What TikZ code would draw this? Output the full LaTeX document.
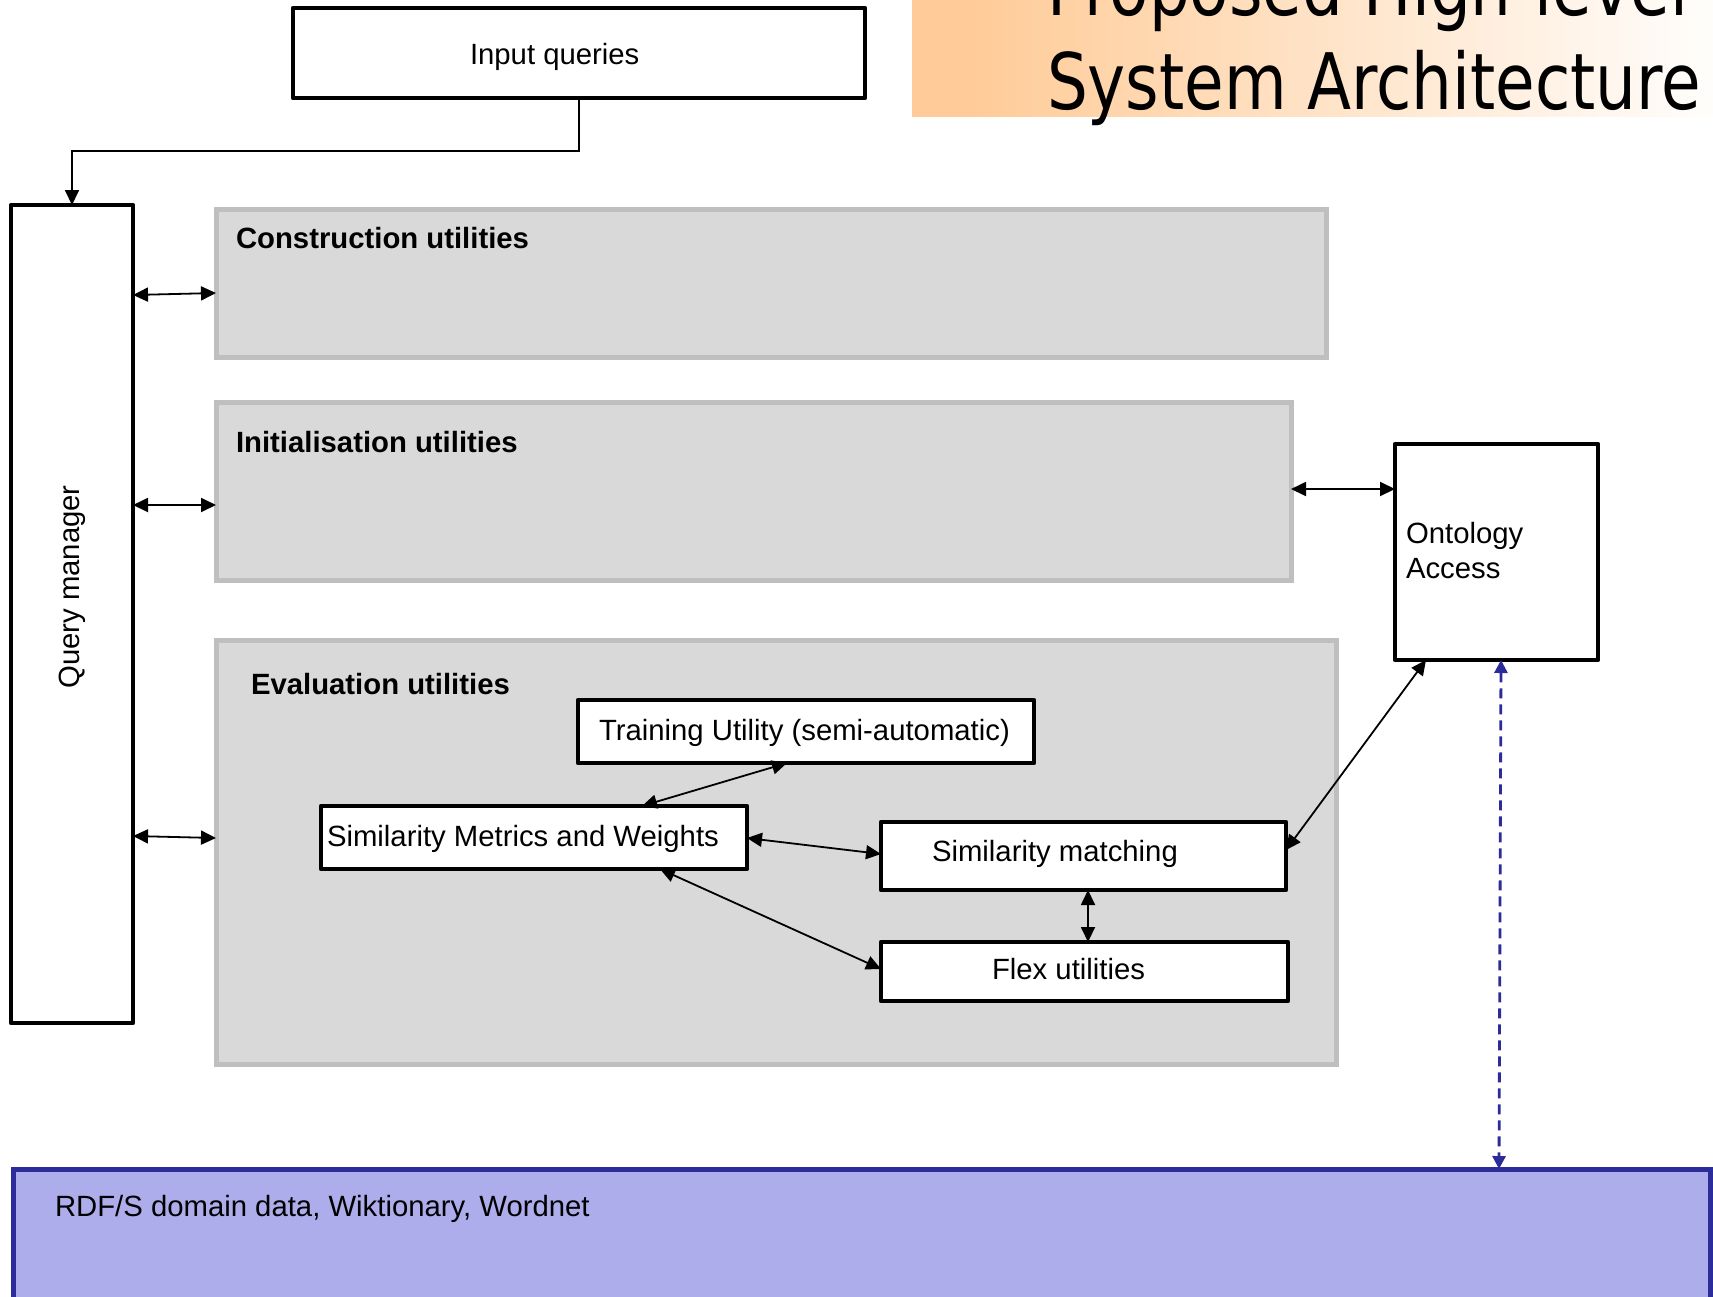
\documentclass[tikz,border=0pt]{standalone}
\usepackage{fontspec}
\setmainfont{Liberation Sans}
\newfontfamily\titlefont[FakeStretch=0.825]{DejaVu Sans}
\usetikzlibrary{arrows.meta}

\definecolor{titleorange}{RGB}{255,204,153}
\definecolor{panelfill}{RGB}{217,217,217}
\definecolor{panelline}{RGB}{191,191,191}
\definecolor{datafill}{RGB}{173,173,235}
\definecolor{dataline}{RGB}{43,43,153}

% banner fade: flat orange for the first tenth, then towards white
\pgfdeclarehorizontalshading{bannerfade}{100bp}{%
  color(0bp)=(titleorange); color(29.2bp)=(titleorange);
  color(75bp)=(white!97!titleorange); color(100bp)=(white!97!titleorange)}

\tikzset{
  every node/.style={inner sep=0pt, outer sep=0pt},
  txt/.style={font=\fontsize{14.65pt}{17.5pt}\selectfont, align=left},
  btxt/.style={font=\fontsize{14.65pt}{17.5pt}\selectfont\bfseries},
  blackbox/.style={draw=black, fill=white, line width=2.4pt, line join=round, anchor=north west},
  panel/.style={draw=panelline, fill=panelfill, line width=2.5pt, anchor=north west},
  databox/.style={draw=dataline, fill=datafill, line width=2.5pt, anchor=north west},
  link/.style={draw=black, line width=0.9pt},
  biarrow/.style={link, {Triangle[length=7.5pt,width=7pt]}-{Triangle[length=7.5pt,width=7pt]}},
  feed/.style={link, -{Triangle[length=7.5pt,width=7pt]}},
  dataarrow/.style={draw=dataline, line width=1.4pt, dash pattern=on 5pt off 3pt,
    {Triangle[length=6.5pt,width=6.5pt]}-{Triangle[length=6.5pt,width=6.5pt]}},
}

\begin{document}
\begin{tikzpicture}[x=0.5pt, y=-0.5pt]
\useasboundingbox (0,0) rectangle (1713,1296);
\clip (0,0) rectangle (1713,1296);

% title banner
\shade[shading=bannerfade] (912,0) rectangle (1713,116);
\node[anchor=base west, font=\titlefont\fontsize{39pt}{47pt}\selectfont] (title1) at (1047,15) {Proposed High-level};
\node[anchor=base west, font=\titlefont\fontsize{39pt}{47pt}\selectfont] (title2) at (1047,109) {System Architecture};

% input and query manager
\node[blackbox, minimum width=286pt, minimum height=45pt] (inq) at (293,8) {};
\node[txt, anchor=base west] (inqt) at (470,64) {Input queries};

\node[blackbox, minimum width=61pt, minimum height=409pt] (qm) at (11,205) {};
\node[txt, rotate=90, anchor=base] (qmt) at (79,587) {Query manager};

% utility panels
\node[panel, minimum width=555pt, minimum height=74pt] (cons) at (216,209) {};
\node[btxt, anchor=base west] (const) at (236,248) {Construction utilities};

\node[panel, minimum width=537.5pt, minimum height=89pt] (init) at (216,402) {};
\node[btxt, anchor=base west] (initt) at (236,452) {Initialisation utilities};

\node[panel, minimum width=560pt, minimum height=212pt] (eval) at (216,640) {};
\node[btxt, anchor=base west] (evalt) at (251,694) {Evaluation utilities};

% evaluation components
\node[blackbox, minimum width=228pt, minimum height=31.5pt] (train) at (578,700) {};
\node[txt, anchor=base west] (traint) at (599,740) {Training Utility (semi-automatic)};

\node[blackbox, minimum width=213pt, minimum height=31.5pt] (simw) at (321,806) {};
\node[txt, anchor=base west] (simwt) at (327,846) {Similarity Metrics and Weights};

\node[blackbox, minimum width=202.5pt, minimum height=34pt] (simm) at (881,822) {};
\node[txt, anchor=base west] (simmt) at (932,861) {Similarity matching};

\node[blackbox, minimum width=203.5pt, minimum height=29.5pt] (flex) at (881,942) {};
\node[txt, anchor=base west] (flext) at (992,979) {Flex utilities};

% ontology access
\node[blackbox, minimum width=101.5pt, minimum height=108pt] (onto) at (1395,444) {};
\node[txt, anchor=base west] (ontot1) at (1406,543) {Ontology};
\node[txt, anchor=base west] (ontot2) at (1406,578) {Access};

% data sources
\node[databox, minimum width=848.5pt, minimum height=90pt] (rdf) at (13,1169) {};
\node[txt, anchor=base west] (rdft) at (55,1216) {RDF/S domain data, Wiktionary, Wordnet};

% connectors
\draw[feed] (inq.south) -- (579,151) -| (qm.north);

\draw[biarrow] (qm.east |- 0,295) -- (cons.west |- 0,293);
\draw[biarrow] (qm.east |- 0,505) -- (init.west |- 0,505);
\draw[biarrow] (qm.east |- 0,836) -- (eval.west |- 0,838);

\draw[biarrow] (init.east |- 0,489) -- (onto.west |- 0,489);

\draw[biarrow] (train.south -| 787,0) -- (simw.north -| 642,0);
\draw[biarrow] (simw.east |- 0,838) -- (simm.west |- 0,854);
\draw[biarrow] (simw.south -| 660,0) -- (flex.west |- 0,969);
\draw[biarrow] (simm.south -| 1088,0) -- (flex.north -| 1088,0);
\draw[biarrow] (simm.east |- 0,850) -- (onto.south -| 1426,0);

\draw[dataarrow] (onto.south -| 1501,0) -- (rdf.north -| 1499,0);
\end{tikzpicture}
\end{document}
